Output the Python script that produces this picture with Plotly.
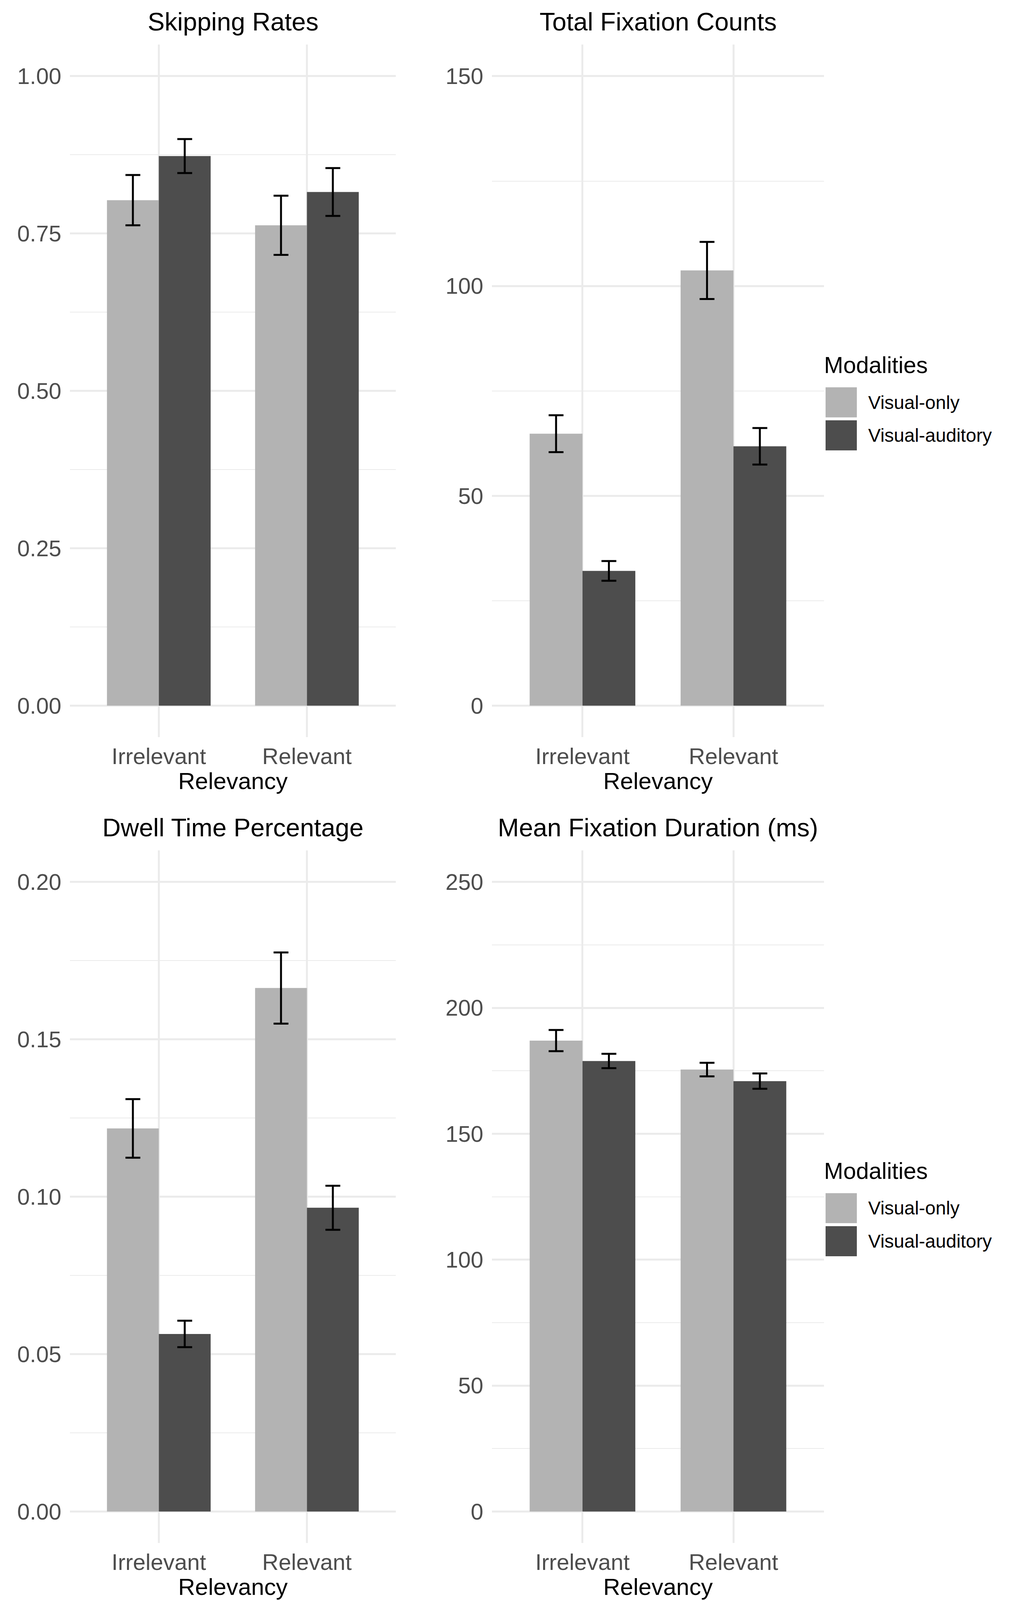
import plotly.graph_objects as go

# ---------------- data ----------------
relevancy = ["Irrelevant", "Relevant"]
modalities = ["Visual-only", "Visual-auditory"]
bar_colors = ["#B3B3B3", "#4D4D4D"]

skip_vo = [0.803, 0.763]
skip_vo_se = [0.040, 0.047]
skip_va = [0.873, 0.816]
skip_va_se = [0.027, 0.038]

count_vo = [64.8, 103.7]
count_vo_se = [4.4, 6.8]
count_va = [32.1, 61.8]
count_va_se = [2.35, 4.35]

dwell_vo = [0.1217, 0.1663]
dwell_vo_se = [0.0093, 0.0113]
dwell_va = [0.0564, 0.0965]
dwell_va_se = [0.0042, 0.0070]

dur_vo = [187.0, 175.5]
dur_vo_se = [4.2, 2.7]
dur_va = [178.9, 170.9]
dur_va_se = [2.85, 3.05]

titles = ["Skipping Rates", "Total Fixation Counts",
          "Dwell Time Percentage", "Mean Fixation Duration (ms)"]
y_ranges = [[-0.05, 1.05], [-7.5, 157.5], [-0.01, 0.21], [-12.5, 262.5]]
y_dticks = [0.25, 50, 0.05, 50]
y_formats = [".2f", "d", ".2f", "d"]

panels = [
    (skip_vo, skip_vo_se, skip_va, skip_va_se),
    (count_vo, count_vo_se, count_va, count_va_se),
    (dwell_vo, dwell_vo_se, dwell_va, dwell_va_se),
    (dur_vo, dur_vo_se, dur_va, dur_va_se),
]

# ---------------- layout geometry (pixels of the 2585x4263 design) ----------------
W, H = 2585, 4263
col_x = [(179, 1013), (1259, 2109)]
row_y = [(119, 1964), (2266, 4111)]
FONT = "Liberation Sans, Arial, sans-serif"
GRID = "#EBEBEB"


def fx(p):
    return p / W


def fy(p):
    return 1 - p / H


fig = go.Figure()
annotations = []
shapes = []

for i, (vo, vo_se, va, va_se) in enumerate(panels):
    r, c = divmod(i, 2)
    sfx = "" if i == 0 else str(i + 1)
    xa, ya = "x" + sfx, "y" + sfx
    for name, vals, se, col in [(modalities[0], vo, vo_se, bar_colors[0]),
                                (modalities[1], va, va_se, bar_colors[1])]:
        fig.add_trace(go.Bar(
            x=relevancy, y=vals, name=name, marker_color=col,
            marker_line_width=0, showlegend=False,
            error_y=dict(type="data", array=se, visible=True,
                         color="black", thickness=5, width=19),
            xaxis=xa, yaxis=ya,
        ))
    x0, x1 = col_x[c]
    y0, y1 = row_y[r]
    fig.update_layout(**{
        "xaxis" + sfx: dict(
            domain=[fx(x0), fx(x1)], anchor=ya, type="category",
            range=[-0.6, 1.6], showgrid=True, gridcolor=GRID, gridwidth=4.5,
            showline=False, zeroline=False, ticks="",
            tickfont=dict(family=FONT, size=58, color="#4D4D4D"),
            ticklabelstandoff=10, fixedrange=True,
        ),
        "yaxis" + sfx: dict(
            domain=[fy(y1), fy(y0)], anchor=xa, range=y_ranges[i],
            tick0=0, dtick=y_dticks[i], tickformat=y_formats[i],
            showgrid=True, gridcolor=GRID, gridwidth=4.5,
            minor=dict(dtick=y_dticks[i] / 2, showgrid=True,
                       gridcolor=GRID, gridwidth=2.3, ticks=""),
            showline=False, zeroline=False, ticks="",
            tickfont=dict(family=FONT, size=58, color="#4D4D4D"),
            ticklabelstandoff=21, fixedrange=True,
        ),
    })
    cx = (x0 + x1) / 2
    annotations.append(dict(
        text=titles[i], x=fx(cx), y=fy(y0 - 61), xref="paper", yref="paper",
        xanchor="center", yanchor="middle", showarrow=False,
        font=dict(family=FONT, size=65, color="black")))
    annotations.append(dict(
        text="Relevancy", x=fx(cx), y=fy(y1 + 117), xref="paper", yref="paper",
        xanchor="center", yanchor="middle", showarrow=False,
        font=dict(family=FONT, size=60, color="black")))

# legends (one per row, right side)
for r in range(2):
    top = row_y[r][0]
    annotations.append(dict(
        text="Modalities", x=fx(2107), y=fy(top + 854), xref="paper", yref="paper",
        xanchor="left", yanchor="middle", showarrow=False,
        font=dict(family=FONT, size=59, color="black")))
    for k in range(2):
        ky0 = top + 913 + k * 88
        shapes.append(dict(
            type="rect", xref="paper", yref="paper",
            x0=fx(2113), x1=fx(2193), y0=fy(ky0 + 80), y1=fy(ky0),
            fillcolor=bar_colors[k], line=dict(width=0), layer="above"))
        annotations.append(dict(
            text=modalities[k], x=fx(2220), y=fy(ky0 + 40), xref="paper", yref="paper",
            xanchor="left", yanchor="middle", showarrow=False,
            font=dict(family=FONT, size=48, color="black")))

fig.update_layout(
    width=W, height=H, autosize=False,
    margin=dict(l=0, r=0, t=0, b=0, pad=0),
    paper_bgcolor="white", plot_bgcolor="white",
    barmode="group", bargap=0.3, bargroupgap=0,
    font=dict(family=FONT),
    annotations=annotations, shapes=shapes,
)

post = """
document.documentElement.style.margin='0';
document.body.style.margin='0';
document.body.style.overflow='hidden';
document.documentElement.style.overflow='hidden';
var gd = document.getElementById('{plot_id}');
var vw = window.innerWidth || document.documentElement.clientWidth;
var vh = window.innerHeight || document.documentElement.clientHeight;
if (vw > 100 && vh > 100) { Plotly.relayout(gd, {width: vw, height: vh}); }
"""

fig.write_html("out.html", config={"displayModeBar": False}, post_script=post)
